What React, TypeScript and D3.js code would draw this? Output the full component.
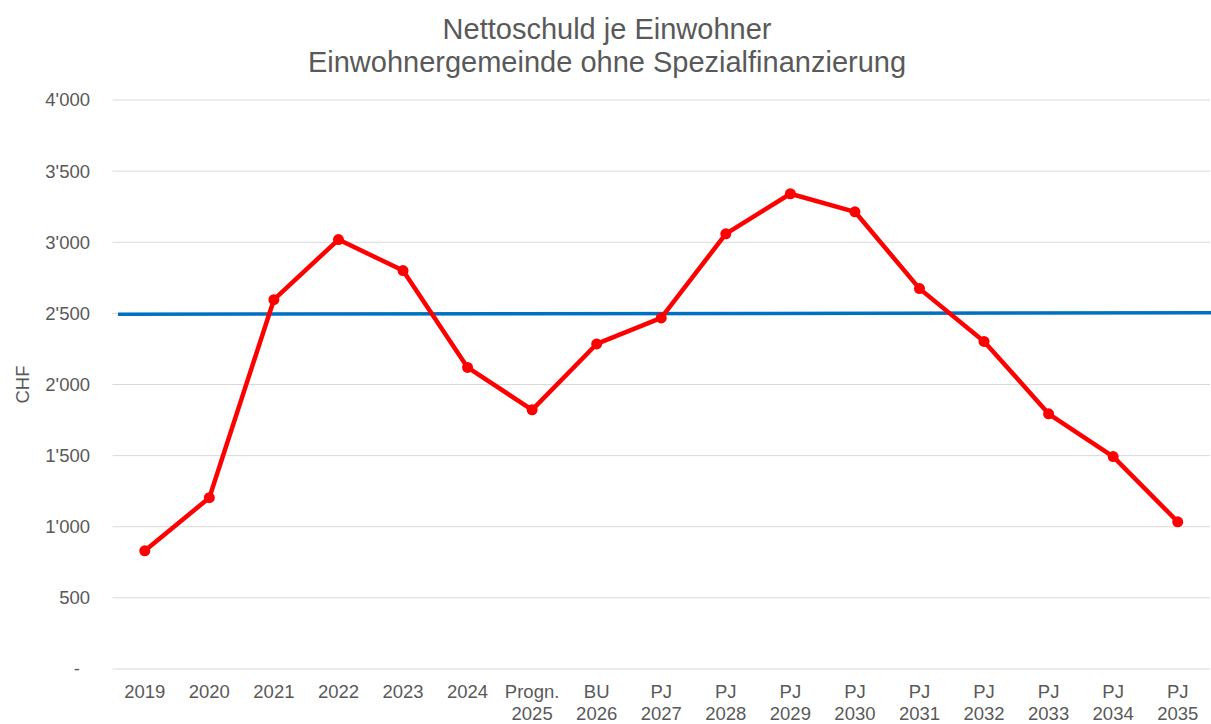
import * as React from 'react';
import * as d3 from 'd3';

const categories = ['2019', '2020', '2021', '2022', '2023', '2024', 'Progn.\n2025', 'BU\n2026', 'PJ\n2027', 'PJ\n2028', 'PJ\n2029', 'PJ\n2030', 'PJ\n2031', 'PJ\n2032', 'PJ\n2033', 'PJ\n2034', 'PJ\n2035'];
const nettoschuld = [831, 1204, 2596, 3019, 2801, 2120, 1822, 2285, 2468, 3059, 3341, 3214, 2674, 2303, 1794, 1493, 1035];
// Richtwert line, drawn across the plot (start, end)
const richtwert = [2494, 2504];
const yTicks = [0, 500, 1000, 1500, 2000, 2500, 3000, 3500, 4000];
const titleLines = ['Nettoschuld je Einwohner', 'Einwohnergemeinde ohne Spezialfinanzierung'];

const W = 1211;
const H = 724;
const margin = { top: 100, right: 1, bottom: 55, left: 112.5 };
const FONT = '"Liberation Sans", Arial, sans-serif';
const TXT = '#595959';
const FS = 18.5;

export default function App() {
  const x = d3.scaleBand<string>()
    .domain(categories)
    .range([margin.left, W - margin.right])
    .padding(0);
  const y = d3.scaleLinear().domain([0, 4000]).range([H - margin.bottom, margin.top]);

  const cx = (c: string) => (x(c) as number) + x.bandwidth() / 2;
  const fmt = (v: number) => (v === 0 ? '-' : d3.format(',')(v).replace(/,/g, "'"));

  const line = d3.line<number>()
    .x((_, i) => cx(categories[i]))
    .y(d => y(d));

  const refX = d3.scaleLinear().domain([0, 1]).range([margin.left + 5.5, W]);
  const refLine = d3.line<number>()
    .x((_, i) => refX(i / (richtwert.length - 1)))
    .y(d => y(d));

  return (
    <svg width={W} height={H} style={{ position: 'absolute', left: 0, top: 0, background: '#fff' }} fontFamily={FONT}>
      {titleLines.map((t, i) => (
        <text key={t} x={607} y={39 + i * 33} textAnchor="middle" fontSize={29} fill={TXT}>{t}</text>
      ))}

      {yTicks.map(v => (
        <g key={v}>
          <line x1={margin.left} x2={W - margin.right} y1={y(v)} y2={y(v)} stroke="#d9d9d9" strokeWidth={1} />
          <text x={v === 0 ? 80 : 90} y={y(v)} dy="0.35em" textAnchor="end" fontSize={FS} fill={TXT}>{fmt(v)}</text>
        </g>
      ))}

      <text transform={`translate(29, ${y(2000)}) rotate(-90)`} textAnchor="middle" fontSize={FS} fill={TXT}>CHF</text>

      {categories.map(c => (
        <text key={c} x={cx(c)} y={698} textAnchor="middle" fontSize={FS} fill={TXT}>
          {c.split('\n').map((s, i) => (
            <tspan key={i} x={cx(c)} dy={i === 0 ? 0 : 22}>{s}</tspan>
          ))}
        </text>
      ))}

      <path d={refLine(richtwert) || ''} fill="none" stroke="#0070C0" strokeWidth={3.5} />

      <path d={line(nettoschuld) || ''} fill="none" stroke="#FF0000" strokeWidth={4.5} strokeLinejoin="round" />
      {nettoschuld.map((v, i) => (
        <circle key={i} cx={cx(categories[i])} cy={y(v)} r={5.5} fill="#FF0000" />
      ))}
    </svg>
  );
}
